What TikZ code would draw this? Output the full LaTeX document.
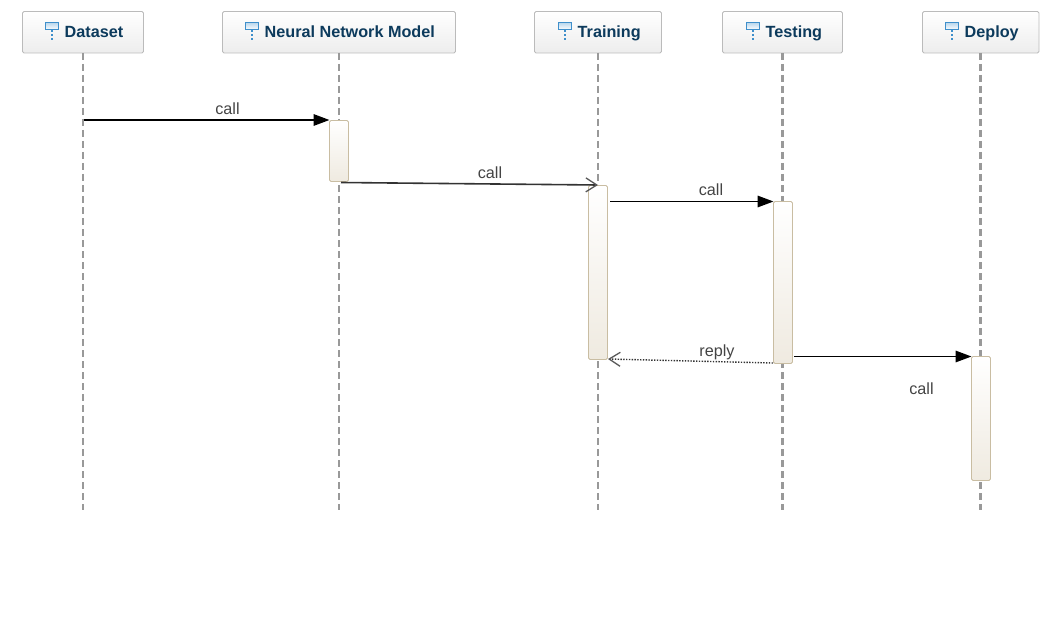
\documentclass[tikz,border=0pt]{standalone}
\usepackage{fontspec}
\setmainfont{Liberation Sans}
\usetikzlibrary{arrows.meta,calc}
\definecolor{hdrtxt}{HTML}{0C3A5C}
\definecolor{hdredge}{HTML}{BBBBBB}
\definecolor{lifec}{HTML}{999999}
\definecolor{actedge}{HTML}{C9BDA2}
\definecolor{actend}{HTML}{EFEAE0}
\definecolor{msgtxt}{HTML}{444444}
\definecolor{icon}{HTML}{3F8FCB}
\tikzset{
  x=1pt,y=-1pt,
  hdrbox/.style={draw=hdredge,line width=0.9pt,rounded corners=1.5pt,top color=white,bottom color=black!7,minimum height=41.5pt,inner sep=0pt,outer sep=0pt},
  hdrtext/.style={anchor=base west,inner sep=0pt,text=hdrtxt,font=\fontsize{16.2}{18}\selectfont\bfseries},
  lifethin/.style={draw=lifec,line width=1.8pt,dash pattern=on 7pt off 4pt},
  lifethick/.style={draw=lifec,line width=3pt,dash pattern=on 7pt off 4pt},
  actbox/.style={draw=actedge,line width=0.9pt,rounded corners=1.5pt,top color=white,bottom color=actend,minimum width=19pt,inner sep=0pt,outer sep=0pt},
  msgtext/.style={anchor=base,inner sep=0pt,text=msgtxt,font=\fontsize{16.2}{18}\selectfont},
  callmsg/.style={draw=black,line width=1.7pt,-{Triangle[length=16pt,width=11.5pt]}},
  opencall/.style={draw=black!80,line width=1.6pt,-{Straight Barb[length=11pt,width=14pt,line width=1.3pt,color=black!65]}},
  replymsg/.style={draw=black!80,line width=1.4pt,dash pattern=on 1.4pt off 1.4pt,-{Straight Barb[length=11pt,width=14pt,line width=1.3pt,color=black!65,sep=0pt]}},
  iconbox/.style={draw=icon,line width=1.2pt,top color=icon!35,bottom color=white,minimum width=13pt,minimum height=7pt,inner sep=0pt,outer sep=0pt},
  iconstem/.style={draw=icon,line width=1.2pt,dash pattern=on 2.5pt off 1.5pt}
}
\newcommand{\lifehead}[6]{%
  \node[hdrbox,minimum width=#3,anchor=north west] (#1) at (#2,11.5) {};
  \node[hdrtext] (#1t) at (#4,38) {#5};
  \node[iconbox,anchor=north] (#1i) at (#4-12.5,22.8) {};
  \coordinate (#1s) at (#4-12.5,40);
  \draw[iconstem] (#1i.south) -- (#1s);
  \coordinate (#1e) at ($(#1.south)+(0,457)$);
  \draw[#6] (#1.south) -- (#1e);
}
\begin{document}
\begin{tikzpicture}
\useasboundingbox (0,0) rectangle (1055,623);
\lifehead{h1}{22.5}{121}{64.5}{Dataset}{lifethin}
\lifehead{h2}{222.5}{233}{264.5}{Neural Network Model}{lifethin}
\lifehead{h3}{534.5}{127}{577.5}{Training}{lifethin}
\lifehead{h4}{722.5}{120}{765.5}{Testing}{lifethick}
\lifehead{h5}{922.5}{116.5}{964.5}{Deploy}{lifethick}
\node[actbox,minimum height=61pt,anchor=north west] (a2) at (329.5,120.5) {};
\node[actbox,minimum height=174pt,anchor=north west] (a3) at (588.5,185.5) {};
\node[actbox,minimum height=162pt,anchor=north west] (a4) at (773.5,201.5) {};
\node[actbox,minimum height=124pt,anchor=north west] (a5) at (971.5,356.5) {};
\coordinate (m1s) at (84,120);
\coordinate (m2s) at (341,182.5);
\coordinate (m2e) at (598,185);
\coordinate (m3s) at (610,201.5);
\coordinate (m4s) at (773,363);
\coordinate (m4e) at (608,359);
\coordinate (m5s) at (794,356.5);
\draw[callmsg] (m1s) -- ([yshift=0.5pt]a2.north west);
\draw[opencall] (m2s) -- (m2e);
\draw[callmsg] (m3s) -- (a4.north west);
\draw[replymsg] (m4s) -- (m4e);
\draw[callmsg] (m5s) -- (a5.north west);
\node[msgtext] (t1) at (227.5,114.5) {call};
\node[msgtext] (t2) at (490,178.5) {call};
\node[msgtext] (t3) at (711,195) {call};
\node[msgtext] (t4) at (717,356) {reply};
\node[msgtext] (t5) at (921.5,394) {call};
\end{tikzpicture}
\end{document}
